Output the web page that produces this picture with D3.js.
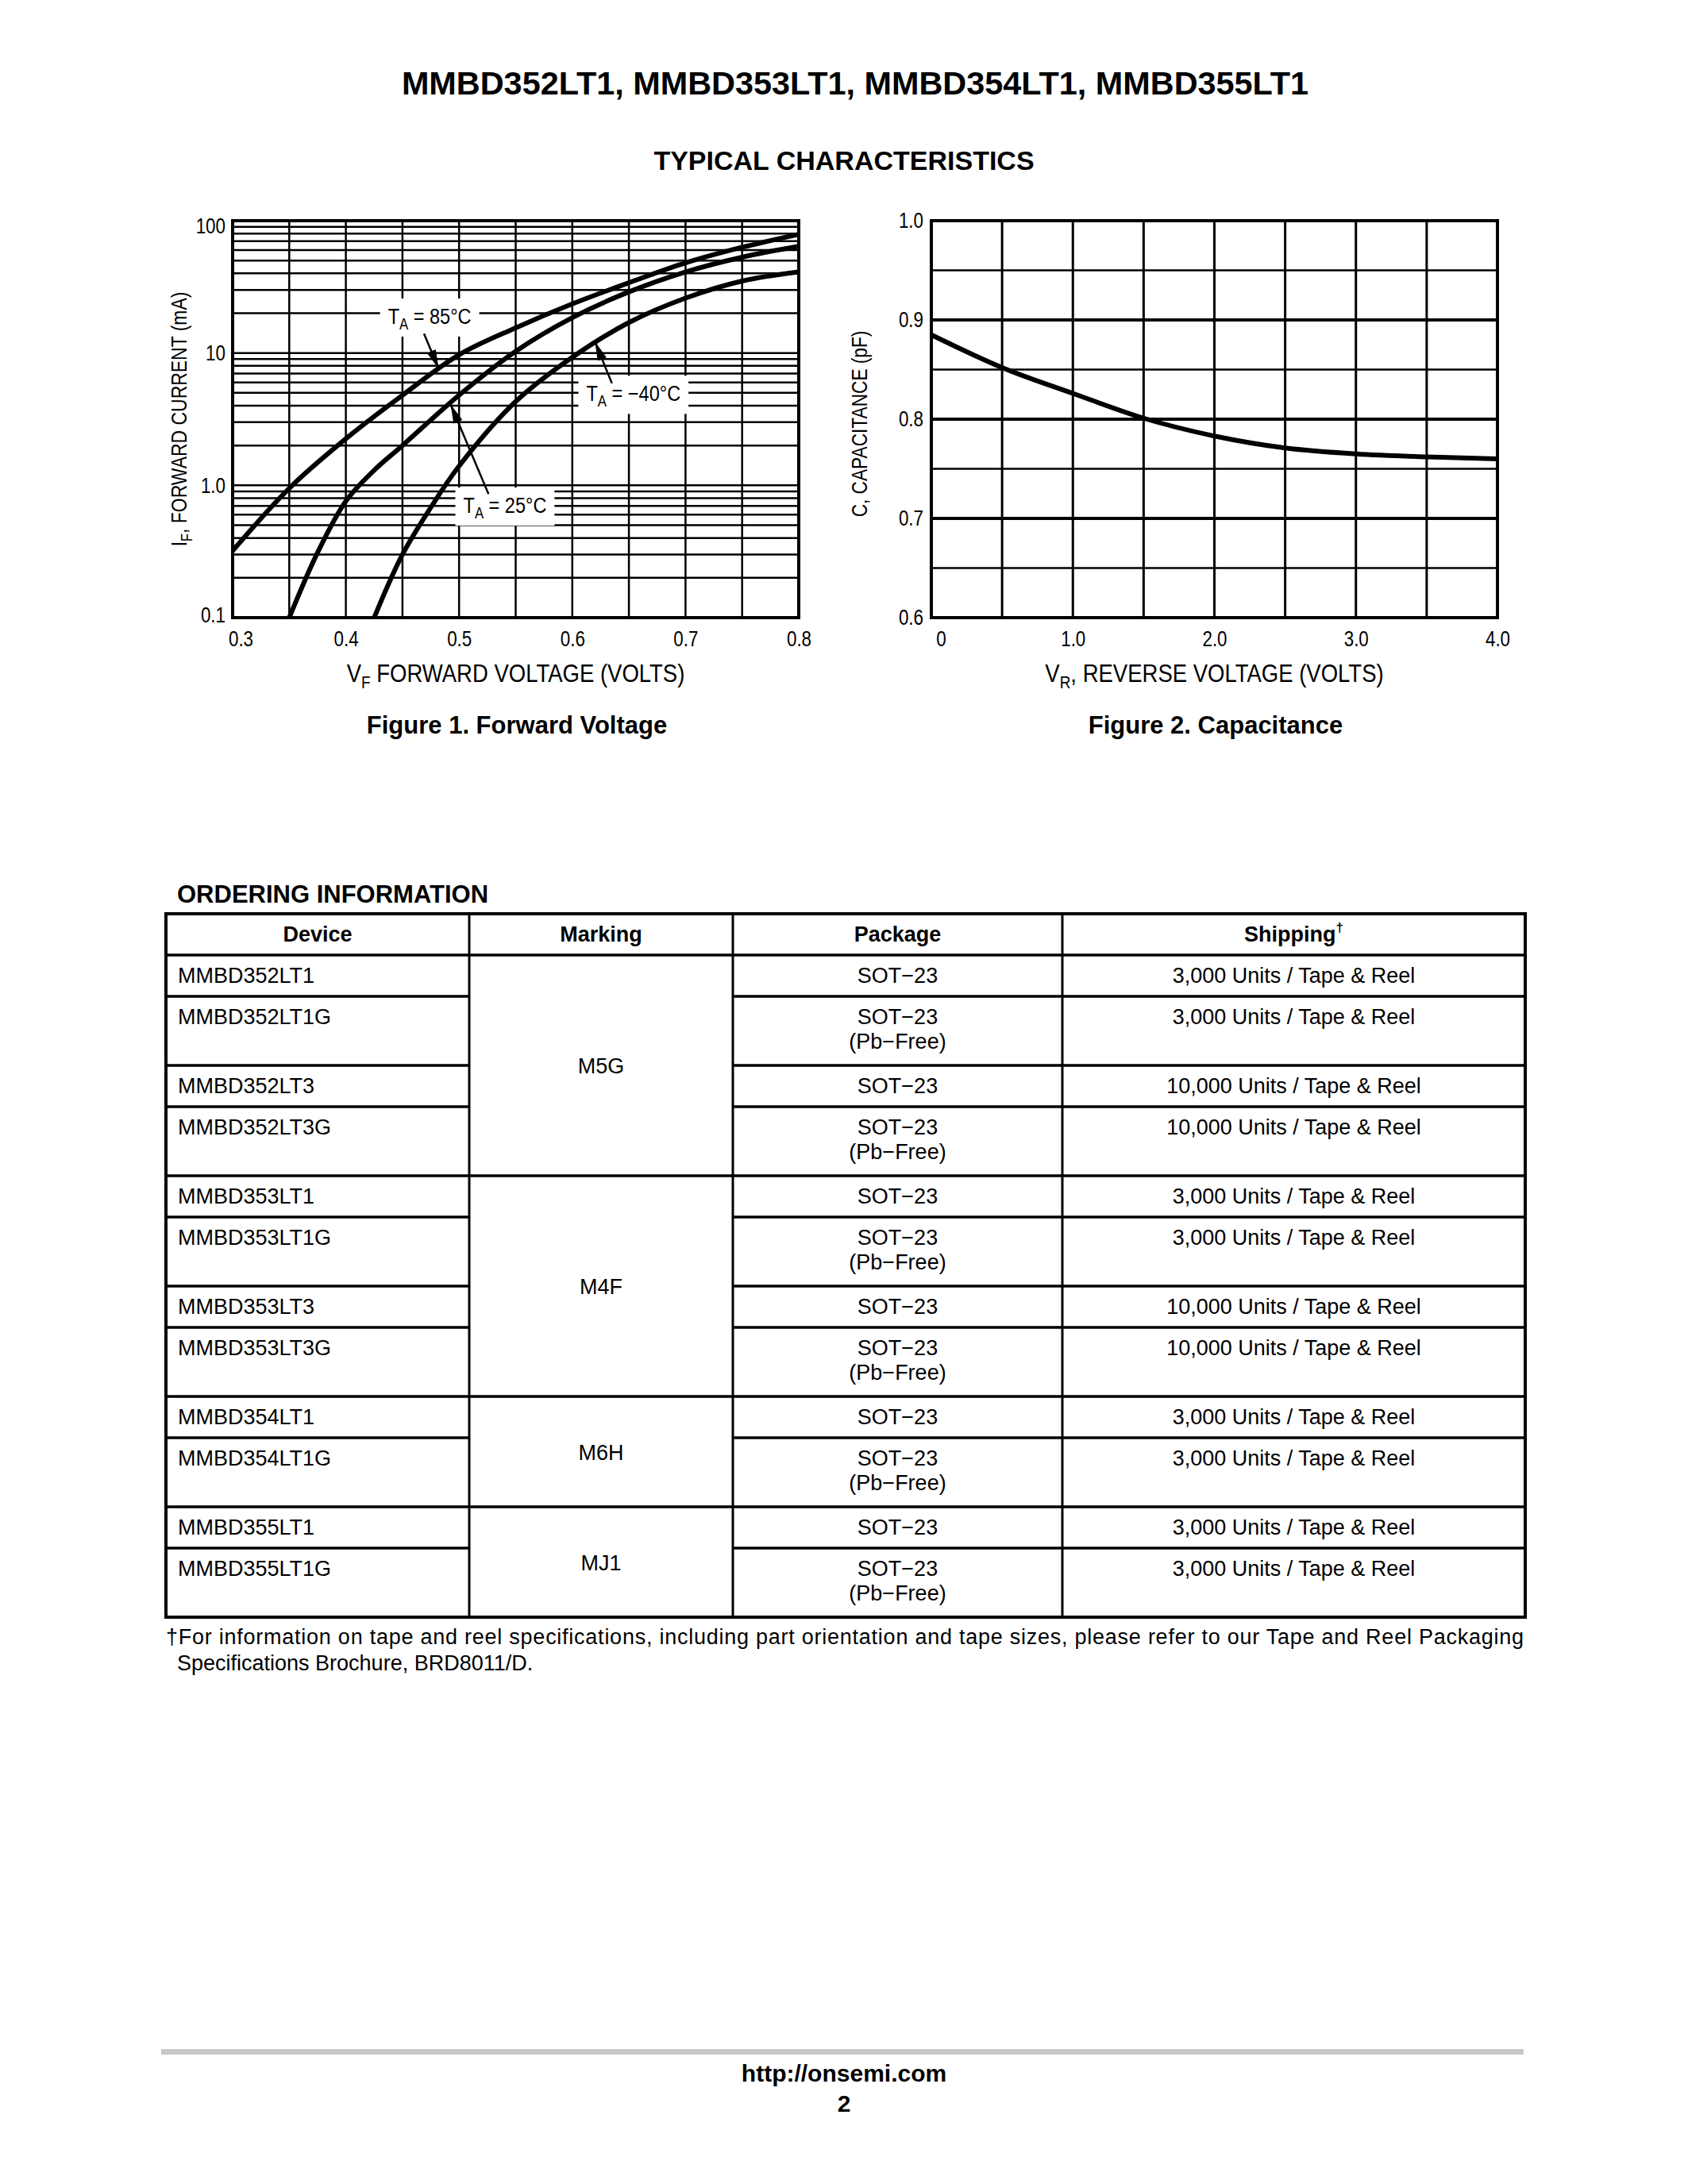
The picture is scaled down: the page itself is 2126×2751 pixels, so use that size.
<!DOCTYPE html>
<html><head><meta charset="utf-8">
<script src="https://cdn.jsdelivr.net/npm/d3@7"></script>
<style>
html,body{margin:0;padding:0;background:#fff;}
svg text{font-family:"Liberation Sans",Arial,Helvetica,sans-serif;fill:#000;}
</style></head><body>
<svg id="page" width="2126" height="2751"></svg>
<script>
// ---------------- DATA ----------------
// Figure 1: forward voltage (V) vs forward current (mA)
const vf85  = [0.30, 0.35, 0.40, 0.45, 0.50, 0.55, 0.60, 0.65, 0.70, 0.75, 0.80];
const if85  = [0.32, 0.95, 2.25, 4.8,  9.7,  15.5, 23.5, 34,   48,   63,   79];
const vf25  = [0.35, 0.375, 0.40, 0.425, 0.45, 0.50, 0.55, 0.60, 0.65, 0.70, 0.75, 0.80];
const if25  = [0.10, 0.31,  0.76, 1.3,   2.0,  4.8,  10.3, 18.5, 29,   41,   53,   64];
const vfM40 = [0.425, 0.45, 0.475, 0.50, 0.55, 0.60, 0.65, 0.70, 0.75, 0.80];
const ifM40 = [0.10,  0.30, 0.68,  1.4,  4.3,  9.3,  17,   26,   35,   41];
const fwdXTicks = [0.3, 0.4, 0.5, 0.6, 0.7, 0.8];
const fwdXTickLabels = ["0.3","0.4","0.5","0.6","0.7","0.8"];
const fwdYTicks = [0.1, 1, 10, 100];
const fwdYTickLabels = ["0.1","1.0","10","100"];
// annotation labels: text centre [V, mA]; arrows from [V, mA] to [V, mA]
const annTemps  = ["85°C", "−40°C", "25°C"];
const annLabelV = [0.474, 0.654, 0.5405];
const annLabelI = [18.8, 4.9, 0.70];
const annFromV  = [0.469, 0.635, 0.526];
const annFromI  = [14.0, 5.9, 0.86];
const annToV    = [0.482, 0.620, 0.4925];
const annToI    = [7.6, 12.2, 4.1];

// Figure 2: reverse voltage (V) vs capacitance (pF)
const vr  = [0, 0.5, 1.0, 1.5, 2.0, 2.5, 3.0, 3.5, 4.0];
const cap = [0.885, 0.852, 0.826, 0.801, 0.783, 0.771, 0.765, 0.762, 0.760];
const capXTicks = [0, 1, 2, 3, 4];
const capXTickLabels = ["0","1.0","2.0","3.0","4.0"];
const capYTicks = [0.6, 0.7, 0.8, 0.9, 1.0];
const capYTickLabels = ["0.6","0.7","0.8","0.9","1.0"];

// Ordering information
const tableHeaders = ["Device","Marking","Package","Shipping"];
const devices = ["MMBD352LT1","MMBD352LT1G","MMBD352LT3","MMBD352LT3G",
                 "MMBD353LT1","MMBD353LT1G","MMBD353LT3","MMBD353LT3G",
                 "MMBD354LT1","MMBD354LT1G","MMBD355LT1","MMBD355LT1G"];
const packages = ["SOT−23","SOT−23|(Pb−Free)","SOT−23","SOT−23|(Pb−Free)",
                  "SOT−23","SOT−23|(Pb−Free)","SOT−23","SOT−23|(Pb−Free)",
                  "SOT−23","SOT−23|(Pb−Free)","SOT−23","SOT−23|(Pb−Free)"];
const shipping = ["3,000 Units / Tape & Reel","3,000 Units / Tape & Reel",
                  "10,000 Units / Tape & Reel","10,000 Units / Tape & Reel",
                  "3,000 Units / Tape & Reel","3,000 Units / Tape & Reel",
                  "10,000 Units / Tape & Reel","10,000 Units / Tape & Reel",
                  "3,000 Units / Tape & Reel","3,000 Units / Tape & Reel",
                  "3,000 Units / Tape & Reel","3,000 Units / Tape & Reel"];
const markings = ["M5G","M4F","M6H","MJ1"];
const markingSpans = [4,4,2,2];

// ---------------- DRAW ----------------
const svg = d3.select("#page");
svg.append("rect").attr("width",2126).attr("height",2751).attr("fill","#fff");
const defs = svg.append("defs");
defs.append("marker").attr("id","arrow").attr("viewBox","0 0 10 10")
  .attr("refX",10).attr("refY",5).attr("markerUnits","userSpaceOnUse")
  .attr("markerWidth",24).attr("markerHeight",12).attr("preserveAspectRatio","none")
  .attr("orient","auto").append("path").attr("d","M0,0L10,5L0,10z").attr("fill","#000");

const CS = 0.8; // horizontal condensing of chart lettering

// Titles
svg.append("text").attr("x",1077).attr("y",119).attr("text-anchor","middle")
  .attr("font-size",41.4).attr("font-weight","bold")
  .text("MMBD352LT1, MMBD353LT1, MMBD354LT1, MMBD355LT1");
svg.append("text").attr("x",1063).attr("y",214).attr("text-anchor","middle")
  .attr("font-size",34).attr("font-weight","bold").text("TYPICAL CHARACTERISTICS");

function styleTicks(a, isLeft, pad){
  a.select(".domain").remove();
  a.selectAll("text").attr("font-size",28).attr("font-family",null)
   .attr("transform",`scale(${CS},1)`);
  if(isLeft) a.selectAll("text").attr("x",-pad/CS);
}

// ---- Figure 1 ----
const p1 = {l:293,r:1006,t:278,b:778};
const x1 = d3.scaleLinear().domain([0.3,0.8]).range([p1.l,p1.r]);
const y1 = d3.scaleLog().domain([0.1,100]).range([p1.b,p1.t]);
const g1 = svg.append("g");
g1.selectAll("line.hg").data(y1.ticks()).join("line")
  .attr("x1",p1.l).attr("x2",p1.r).attr("y1",d=>y1(d)).attr("y2",d=>y1(d))
  .attr("stroke","#000").attr("stroke-width",2.5);
g1.selectAll("line.vg").data(x1.ticks(10)).join("line")
  .attr("y1",p1.t).attr("y2",p1.b).attr("x1",d=>x1(d)).attr("x2",d=>x1(d))
  .attr("stroke","#000").attr("stroke-width",2.5);
g1.append("rect").attr("x",p1.l).attr("y",p1.t).attr("width",p1.r-p1.l).attr("height",p1.b-p1.t)
  .attr("fill","none").attr("stroke","#000").attr("stroke-width",4);

defs.append("clipPath").attr("id","clip1").append("rect")
  .attr("x",p1.l).attr("y",p1.t).attr("width",p1.r-p1.l).attr("height",p1.b-p1.t);
const line1 = d3.line().x(d=>x1(d[0])).y(d=>y1(d[1])).curve(d3.curveCatmullRom.alpha(0.5));
[[vf85,if85],[vf25,if25],[vfM40,ifM40]].forEach(([xs,ys])=>{
  g1.append("path").attr("clip-path","url(#clip1)")
    .attr("d",line1(xs.map((v,i)=>[v,ys[i]])))
    .attr("fill","none").attr("stroke","#000").attr("stroke-width",6).attr("stroke-linecap","round");
});

// annotations
annTemps.forEach((t,i)=>{
  const cx = x1(annLabelV[i]), cy = y1(annLabelI[i]);
  const lab = g1.append("g");
  const txt = lab.append("text").attr("transform",`translate(${cx},${cy+9}) scale(0.84,1)`)
    .attr("text-anchor","middle").attr("font-size",28);
  txt.append("tspan").text("T");
  txt.append("tspan").attr("font-size",20).attr("dy",7).text("A");
  txt.append("tspan").attr("dy",-7).text(" = " + t);
  const bw = txt.node().getBBox().width*0.84;
  lab.insert("rect","text").attr("x",cx-bw/2-10).attr("y",cy-23).attr("width",bw+20).attr("height",48).attr("fill","#fff");
  g1.append("line").attr("x1",x1(annFromV[i])).attr("y1",y1(annFromI[i]))
    .attr("x2",x1(annToV[i])).attr("y2",y1(annToI[i]))
    .attr("stroke","#000").attr("stroke-width",2.5).attr("marker-end","url(#arrow)");
});

// axes fig 1
const ax1 = svg.append("g").attr("transform",`translate(0,${p1.b})`)
  .call(d3.axisBottom(x1).tickValues(fwdXTicks).tickFormat((d,i)=>fwdXTickLabels[i]).tickSize(0).tickPadding(16));
const ay1 = svg.append("g").attr("transform",`translate(${p1.l},0)`)
  .call(d3.axisLeft(y1).tickValues(fwdYTicks).tickFormat((d,i)=>fwdYTickLabels[i]).tickSize(0));
styleTicks(ax1,false); styleTicks(ay1,true,9);
ax1.selectAll("text").filter((d,i)=>i===0).attr("x",10/CS);
ay1.selectAll("text").filter(d=>d===100).attr("y",7);
ay1.selectAll("text").filter(d=>d===0.1).attr("y",-3);

const xt1 = svg.append("text").attr("transform",`translate(${(p1.l+p1.r)/2},859) scale(0.86,1)`)
  .attr("text-anchor","middle").attr("font-size",32);
xt1.append("tspan").text("V");
xt1.append("tspan").attr("font-size",22).attr("dy",8).text("F");
xt1.append("tspan").attr("dy",-8).text(" FORWARD VOLTAGE (VOLTS)");
const yt1 = svg.append("text").attr("transform",`translate(235,${(p1.t+p1.b)/2}) rotate(-90) scale(0.82,1)`)
  .attr("text-anchor","middle").attr("font-size",28);
yt1.append("tspan").text("I");
yt1.append("tspan").attr("font-size",20).attr("dy",7).text("F");
yt1.append("tspan").attr("dy",-7).text(", FORWARD CURRENT (mA)");

svg.append("text").attr("x",651).attr("y",924).attr("text-anchor","middle")
  .attr("font-size",31).attr("font-weight","bold").text("Figure 1. Forward Voltage");

// ---- Figure 2 ----
const p2 = {l:1173,r:1886,t:278,b:778};
const x2 = d3.scaleLinear().domain([0,4]).range([p2.l,p2.r]);
const y2 = d3.scaleLinear().domain([0.6,1.0]).range([p2.b,p2.t]);
const g2 = svg.append("g");
g2.selectAll("line.hg").data(d3.range(13,20).map(k=>k/20)).join("line")
  .attr("x1",p2.l).attr("x2",p2.r).attr("y1",d=>y2(d)).attr("y2",d=>y2(d))
  .attr("stroke","#000").attr("stroke-width",d=>Math.abs(d*10-Math.round(d*10))<1e-6?4:2.5);
g2.selectAll("line.vg").data(d3.range(1,8).map(k=>k/2)).join("line")
  .attr("y1",p2.t).attr("y2",p2.b).attr("x1",d=>x2(d)).attr("x2",d=>x2(d))
  .attr("stroke","#000").attr("stroke-width",3);
g2.append("rect").attr("x",p2.l).attr("y",p2.t).attr("width",p2.r-p2.l).attr("height",p2.b-p2.t)
  .attr("fill","none").attr("stroke","#000").attr("stroke-width",4);
const line2 = d3.line().x(d=>x2(d[0])).y(d=>y2(d[1])).curve(d3.curveCatmullRom.alpha(0.5));
g2.append("path").attr("d",line2(vr.map((v,i)=>[v,cap[i]])))
  .attr("fill","none").attr("stroke","#000").attr("stroke-width",6);

const ax2 = svg.append("g").attr("transform",`translate(0,${p2.b})`)
  .call(d3.axisBottom(x2).tickValues(capXTicks).tickFormat((d,i)=>capXTickLabels[i]).tickSize(0).tickPadding(16));
const ay2 = svg.append("g").attr("transform",`translate(${p2.l},0)`)
  .call(d3.axisLeft(y2).tickValues(capYTicks).tickFormat((d,i)=>capYTickLabels[i]).tickSize(0));
styleTicks(ax2,false); styleTicks(ay2,true,10);
ax2.selectAll("text").filter((d,i)=>i===0).attr("x",12/CS);

const xt2 = svg.append("text").attr("transform",`translate(${(p2.l+p2.r)/2},859) scale(0.86,1)`)
  .attr("text-anchor","middle").attr("font-size",32);
xt2.append("tspan").text("V");
xt2.append("tspan").attr("font-size",22).attr("dy",8).text("R");
xt2.append("tspan").attr("dy",-8).text(", REVERSE VOLTAGE (VOLTS)");
svg.append("text").attr("transform",`translate(1092,${(p2.t+p2.b)/2 + 6}) rotate(-90) scale(0.81,1)`)
  .attr("text-anchor","middle").attr("font-size",28).text("C, CAPACITANCE (pF)");

svg.append("text").attr("x",1531).attr("y",924).attr("text-anchor","middle")
  .attr("font-size",31).attr("font-weight","bold").text("Figure 2. Capacitance");

// ---- Ordering information table ----
svg.append("text").attr("x",223).attr("y",1137).attr("font-size",31).attr("font-weight","bold")
  .text("ORDERING INFORMATION");
const colX = [209, 591, 923, 1338, 1921];
const top0 = 1151, headH = 52, singleH = 52, doubleH = 87;
const rowH = packages.map(p=>p.includes("|")?doubleH:singleH);
const rowTop = [];
let acc = top0 + headH;
rowH.forEach(h=>{rowTop.push(acc); acc+=h;});
const tBottom = acc;
const tg = svg.append("g");
tableHeaders.forEach((h,i)=>{
  const t = tg.append("text").attr("x",(colX[i]+colX[i+1])/2).attr("y",top0+35)
    .attr("text-anchor","middle").attr("font-size",27).attr("font-weight","bold").text(h);
  if(i===3) t.append("tspan").attr("font-size",17).attr("dy",-12).text("†");
});
devices.forEach((d,i)=>{
  tg.append("text").attr("x",colX[0]+15).attr("y",rowTop[i]+35).attr("font-size",27).text(d);
  packages[i].split("|").forEach((s,k)=>{
    tg.append("text").attr("x",(colX[2]+colX[3])/2).attr("y",rowTop[i]+35+k*31)
      .attr("text-anchor","middle").attr("font-size",27).text(s);
  });
  tg.append("text").attr("x",(colX[3]+colX[4])/2).attr("y",rowTop[i]+35)
    .attr("text-anchor","middle").attr("font-size",27).text(shipping[i]);
});
let r0 = 0;
const groupStarts = new Set();
markings.forEach((m,gi)=>{
  const r1 = r0 + markingSpans[gi];
  groupStarts.add(r0);
  const yTop = rowTop[r0], yBot = (r1<rowTop.length)?rowTop[r1]:tBottom;
  tg.append("text").attr("x",(colX[1]+colX[2])/2).attr("y",(yTop+yBot)/2+10)
    .attr("text-anchor","middle").attr("font-size",27).text(m);
  r0 = r1;
});
const lw = 3.5;
rowTop.forEach((y,i)=>{
  if(groupStarts.has(i)){
    tg.append("line").attr("x1",colX[0]).attr("x2",colX[4]).attr("y1",y).attr("y2",y).attr("stroke","#000").attr("stroke-width",lw);
  } else {
    tg.append("line").attr("x1",colX[0]).attr("x2",colX[1]).attr("y1",y).attr("y2",y).attr("stroke","#000").attr("stroke-width",lw);
    tg.append("line").attr("x1",colX[2]).attr("x2",colX[4]).attr("y1",y).attr("y2",y).attr("stroke","#000").attr("stroke-width",lw);
  }
});
colX.slice(1,4).forEach(x=>{
  tg.append("line").attr("x1",x).attr("x2",x).attr("y1",top0).attr("y2",tBottom).attr("stroke","#000").attr("stroke-width",3);
});
tg.append("rect").attr("x",colX[0]).attr("y",top0).attr("width",colX[4]-colX[0]).attr("height",tBottom-top0)
  .attr("fill","none").attr("stroke","#000").attr("stroke-width",4);

// footnote
svg.append("text").attr("x",209).attr("y",2071).attr("font-size",27)
  .attr("textLength",1710).attr("lengthAdjust","spacing")
  .text("†For information on tape and reel specifications, including part orientation and tape sizes, please refer to our Tape and Reel Packaging");
svg.append("text").attr("x",223).attr("y",2104).attr("font-size",27)
  .text("Specifications Brochure, BRD8011/D.");

// footer
svg.append("rect").attr("x",203).attr("y",2581).attr("width",1716).attr("height",7).attr("fill","#c8c8c8");
svg.append("text").attr("x",1063).attr("y",2622).attr("text-anchor","middle").attr("font-size",30)
  .attr("font-weight","bold").text("http://onsemi.com");
svg.append("text").attr("x",1063).attr("y",2660).attr("text-anchor","middle").attr("font-size",30)
  .attr("font-weight","bold").text("2");
</script>
</body></html>
